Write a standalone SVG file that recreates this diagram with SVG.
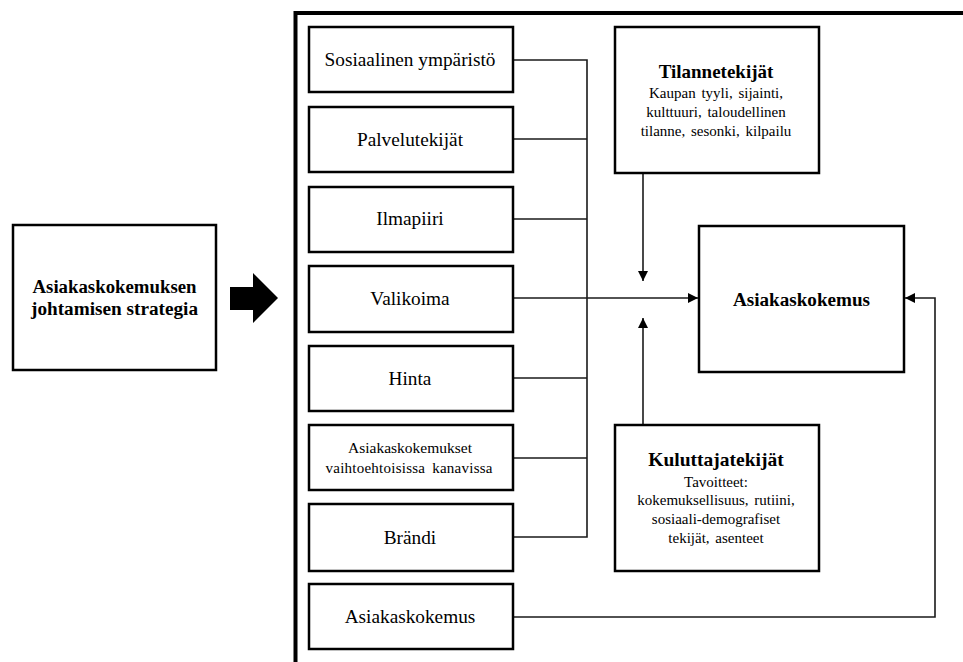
<svg xmlns="http://www.w3.org/2000/svg" width="963" height="662" viewBox="0 0 963 662">
  <style>
    .box { fill: #fff; stroke: #000; stroke-width: 2.5; }
    .t { font-family: 'Liberation Serif', 'DejaVu Serif', 'Noto Serif', serif; fill: #000; text-anchor: middle; }
    .lbl { font-size: 19.3px; }
    .sm { font-size: 15px; }
    .b { font-weight: bold; }
    .conn { fill: none; stroke: #1a1a1a; stroke-width: 1.6; }
  </style>
  <defs>
    <marker id="arrow" markerWidth="10" markerHeight="10" refX="10" refY="5" orient="auto" markerUnits="userSpaceOnUse">
      <path d="M0,0 L10,5 L0,10 Z" fill="#000"/>
    </marker>
  </defs>
  <rect width="963" height="662" fill="#fff"/>

  <!-- frame around the factor area -->
  <path d="M295.5,662 V13 H963" fill="none" stroke="#000" stroke-width="4"/>

  <!-- connectors -->
  <g id="connectors">
    <path class="conn" d="M513,60 H587 V537 H513"/>
    <path class="conn" d="M513,139 H587"/>
    <path class="conn" d="M513,219 H587"/>
    <path class="conn" d="M513,378 H587"/>
    <path class="conn" d="M513,458 H587"/>
    <path class="conn" d="M513,298 H698" marker-end="url(#arrow)"/>
    <path class="conn" d="M643,173 V281" marker-end="url(#arrow)"/>
    <path class="conn" d="M643,425 V318" marker-end="url(#arrow)"/>
    <path class="conn" d="M513,617 H935 V298 H905" marker-end="url(#arrow)"/>
  </g>

  <!-- strategy box and block arrow -->
  <g id="strategia">
    <rect class="box" x="13" y="225" width="203" height="145"/>
    <text class="t lbl b" x="114.5" y="293" textLength="164" lengthAdjust="spacingAndGlyphs">Asiakaskokemuksen</text>
    <text class="t lbl b" x="114.5" y="315" textLength="167" lengthAdjust="spacingAndGlyphs">johtamisen strategia</text>
  </g>
  <g id="block-arrow">
    <path d="M230,287 H253 V273 L278,298 L253,323 V310 H230 Z" fill="#000"/>
  </g>

  <!-- factor boxes -->
  <g id="sosiaalinen">
    <rect class="box" x="309" y="27" width="204" height="65"/>
    <text class="t lbl" x="410" y="66">Sosiaalinen ympäristö</text>
  </g>
  <g id="palvelutekijat">
    <rect class="box" x="309" y="107" width="204" height="65"/>
    <text class="t lbl" x="410" y="146">Palvelutekijät</text>
  </g>
  <g id="ilmapiiri">
    <rect class="box" x="309" y="187" width="204" height="65"/>
    <text class="t lbl" x="410" y="225">Ilmapiiri</text>
  </g>
  <g id="valikoima">
    <rect class="box" x="309" y="266" width="204" height="66"/>
    <text class="t lbl" x="410" y="305">Valikoima</text>
  </g>
  <g id="hinta">
    <rect class="box" x="309" y="346" width="204" height="65"/>
    <text class="t lbl" x="410" y="385">Hinta</text>
  </g>
  <g id="kanavat">
    <rect class="box" x="309" y="425" width="204" height="65"/>
    <text class="t sm" x="410" y="453" textLength="124" lengthAdjust="spacingAndGlyphs">Asiakaskokemukset</text>
    <text class="t sm" x="409" y="473" textLength="167" lengthAdjust="spacing" word-spacing="3">vaihtoehtoisissa kanavissa</text>
  </g>
  <g id="brandi">
    <rect class="box" x="309" y="504" width="204" height="67"/>
    <text class="t lbl" x="410" y="544">Brändi</text>
  </g>
  <g id="asiakaskokemus-aiempi">
    <rect class="box" x="309" y="584" width="204" height="65"/>
    <text class="t lbl" x="410" y="623">Asiakaskokemus</text>
  </g>

  <!-- situational factors -->
  <g id="tilannetekijat">
    <rect class="box" x="615" y="27" width="204" height="146"/>
    <text class="t b" x="716" y="78" font-size="19">Tilannetekijät</text>
    <text class="t sm" x="716" y="98" word-spacing="2">Kaupan tyyli, sijainti,</text>
    <text class="t sm" x="716" y="117" word-spacing="2">kulttuuri, taloudellinen</text>
    <text class="t sm" x="716" y="136" word-spacing="2">tilanne, sesonki, kilpailu</text>
  </g>

  <!-- outcome -->
  <g id="asiakaskokemus">
    <rect class="box" x="699" y="226" width="205" height="146"/>
    <text class="t lbl b" x="801.5" y="306" textLength="137" lengthAdjust="spacingAndGlyphs">Asiakaskokemus</text>
  </g>

  <!-- consumer factors -->
  <g id="kuluttajatekijat">
    <rect class="box" x="615" y="425" width="204" height="146"/>
    <text class="t b" x="716" y="466" font-size="19.5">Kuluttajatekijät</text>
    <text class="t sm" x="716" y="487">Tavoitteet:</text>
    <text class="t sm" x="716" y="505" word-spacing="2">kokemuksellisuus, rutiini,</text>
    <text class="t sm" x="716" y="524">sosiaali-demografiset</text>
    <text class="t sm" x="716" y="543" word-spacing="2">tekijät, asenteet</text>
  </g>
</svg>
